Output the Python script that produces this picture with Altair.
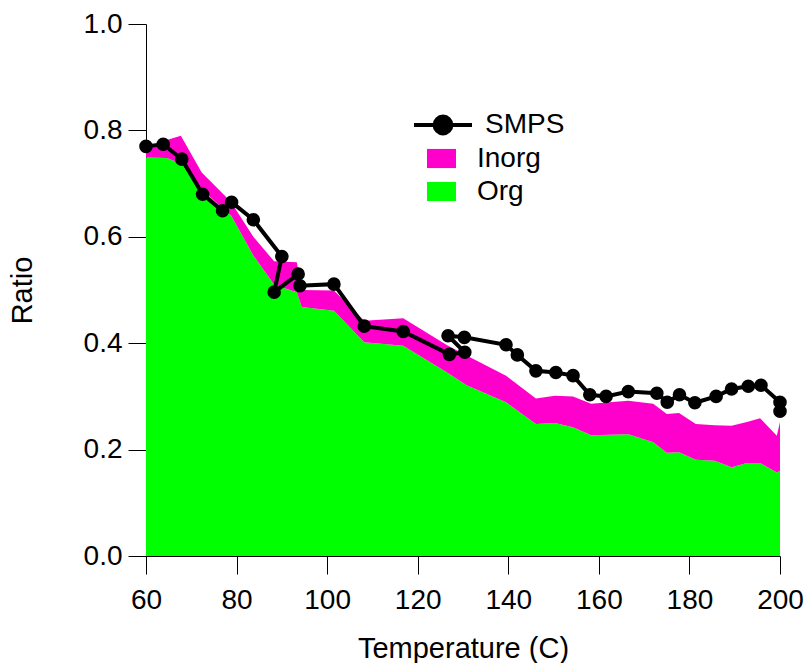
import altair as alt
import pandas as pd

# SMPS volume ratio vs. thermodenuder temperature (line order as measured)
smps_temp = [60.0, 63.8, 67.9, 72.5, 76.9, 78.9, 83.7, 90.0, 88.3, 93.6, 94.0,
             101.5, 108.2, 116.8, 127.0, 130.4, 126.7, 130.3, 139.5, 142.0,
             146.1, 150.5, 154.3, 158.0, 161.6, 166.5, 172.8, 175.1, 177.8,
             181.2, 185.9, 189.3, 193.0, 195.8, 200.0, 200.0]
smps_ratio = [0.770, 0.774, 0.746, 0.680, 0.649, 0.665, 0.632, 0.563, 0.496,
              0.530, 0.508, 0.511, 0.432, 0.422, 0.379, 0.383, 0.414, 0.411,
              0.397, 0.378, 0.348, 0.345, 0.339, 0.303, 0.300, 0.309, 0.306,
              0.289, 0.303, 0.288, 0.300, 0.314, 0.319, 0.321, 0.289, 0.272]

# AMS composition: organic and inorganic mass fraction remaining
ams_temp = [60.0, 64.6, 67.7, 72.3, 77.1, 78.8, 83.7, 88.3, 93.3, 94.4, 101.5,
            108.2, 116.8, 126.5, 130.8, 139.5, 146.1, 150.3, 154.3, 158.3,
            166.5, 172.0, 175.0, 177.7, 181.4, 185.6, 189.3, 192.7, 195.6,
            199.3, 200.0]
org_ratio = [0.749, 0.748, 0.738, 0.690, 0.652, 0.640, 0.565, 0.510, 0.496,
             0.468, 0.461, 0.402, 0.395, 0.345, 0.321, 0.289, 0.248, 0.250,
             0.242, 0.227, 0.229, 0.214, 0.194, 0.195, 0.181, 0.179, 0.167,
             0.175, 0.175, 0.157, 0.160]
inorg_ratio = [0.013, 0.034, 0.052, 0.031, 0.028, 0.025, 0.035, 0.044, 0.056,
               0.032, 0.038, 0.040, 0.052, 0.051, 0.056, 0.050, 0.048, 0.051,
               0.058, 0.059, 0.063, 0.072, 0.073, 0.074, 0.067, 0.067, 0.078,
               0.077, 0.084, 0.069, 0.092]

x_ticks = [60, 80, 100, 120, 140, 160, 180, 200]
y_ticks = [0.0, 0.2, 0.4, 0.6, 0.8, 1.0]

FONT = "Liberation Sans"
MAGENTA = "#ff00cc"
GREEN = "#00ff00"

smps = pd.DataFrame({"temp": smps_temp, "ratio": smps_ratio,
                     "idx": list(range(len(smps_temp))), "series": "SMPS"})
ams = pd.DataFrame({"temp": ams_temp, "org": org_ratio, "inorg": inorg_ratio})
ams["total"] = ams["org"] + ams["inorg"]
ams["org_label"] = "Org"
ams["inorg_label"] = "Inorg"

x_enc = alt.X("temp:Q", scale=alt.Scale(domain=[60, 200], nice=False, zero=False),
              axis=alt.Axis(title="Temperature (C)", values=x_ticks, format="d",
                            labelPadding=12, titlePadding=20, labelFlush=False,
                            labelOverlap=False))
y_scale = alt.Scale(domain=[0, 1], nice=False)
y_axis = alt.Axis(title="Ratio", values=y_ticks, format=".1f",
                  labelPadding=6, titlePadding=46, labelFlush=False,
                  labelOverlap=False)

fill_scale = alt.Scale(domain=["Inorg", "Org"], range=[MAGENTA, GREEN])
box_path = "M-1,-0.66H1V0.66H-1Z"
fill_legend = alt.Legend(title=None, orient="none", legendX=281, legendY=120,
                         symbolType=box_path, symbolSize=841, symbolStrokeWidth=0,
                         labelFont=FONT, labelFontSize=28, labelColor="black",
                         labelOffset=21, rowPadding=4, padding=0)

org_area = alt.Chart(ams).mark_area(opacity=1, interpolate="linear").encode(
    x=x_enc,
    y=alt.Y("org:Q", scale=y_scale, axis=y_axis),
    fill=alt.Fill("org_label:N", scale=fill_scale, legend=fill_legend),
)

inorg_area = alt.Chart(ams).mark_area(opacity=1, interpolate="linear").encode(
    x="temp:Q",
    y="total:Q",
    y2="org:Q",
    fill=alt.Fill("inorg_label:N", scale=fill_scale, legend=fill_legend),
)

smps_line = alt.Chart(smps).mark_line(color="black", strokeWidth=4).encode(
    x="temp:Q",
    y="ratio:Q",
    order="idx:Q",
)

# legend glyph: a short line with a dot in the middle
line_dot = "M-1,0H1M0.29,0A0.29,0.29,0,1,1,-0.29,0A0.29,0.29,0,1,1,0.29,0Z"
smps_points = alt.Chart(smps).mark_point(filled=True, size=185, opacity=1).encode(
    x="temp:Q",
    y="ratio:Q",
    color=alt.Color("series:N", scale=alt.Scale(domain=["SMPS"], range=["black"]),
                    legend=alt.Legend(title=None, orient="none", legendX=266, legendY=70,
                                      symbolType=line_dot, symbolSize=3364,
                                      symbolStrokeWidth=4, symbolStrokeColor="black",
                                      symbolFillColor="black", symbolOpacity=1,
                                      labelFont=FONT, labelFontSize=28,
                                      labelColor="black", labelOffset=11, padding=0)),
)

chart = alt.layer(org_area, inorg_area, smps_line, smps_points).resolve_scale(
    fill="shared"
).properties(
    width=634, height=532,
    autosize=alt.AutoSizeParams(type="none"),
    padding={"left": 146, "top": 24, "right": 29, "bottom": 107},
    background="white",
).configure_view(stroke=None).configure_axis(
    grid=False, domainColor="black", domainWidth=1, tickColor="black",
    tickWidth=1, tickSize=18, labelFont=FONT, labelFontSize=28,
    labelColor="black", titleFont=FONT, titleFontSize=29,
    titleFontWeight="normal", titleColor="black",
)

chart.save("out.html", embed_options={"renderer": "svg", "actions": False})
